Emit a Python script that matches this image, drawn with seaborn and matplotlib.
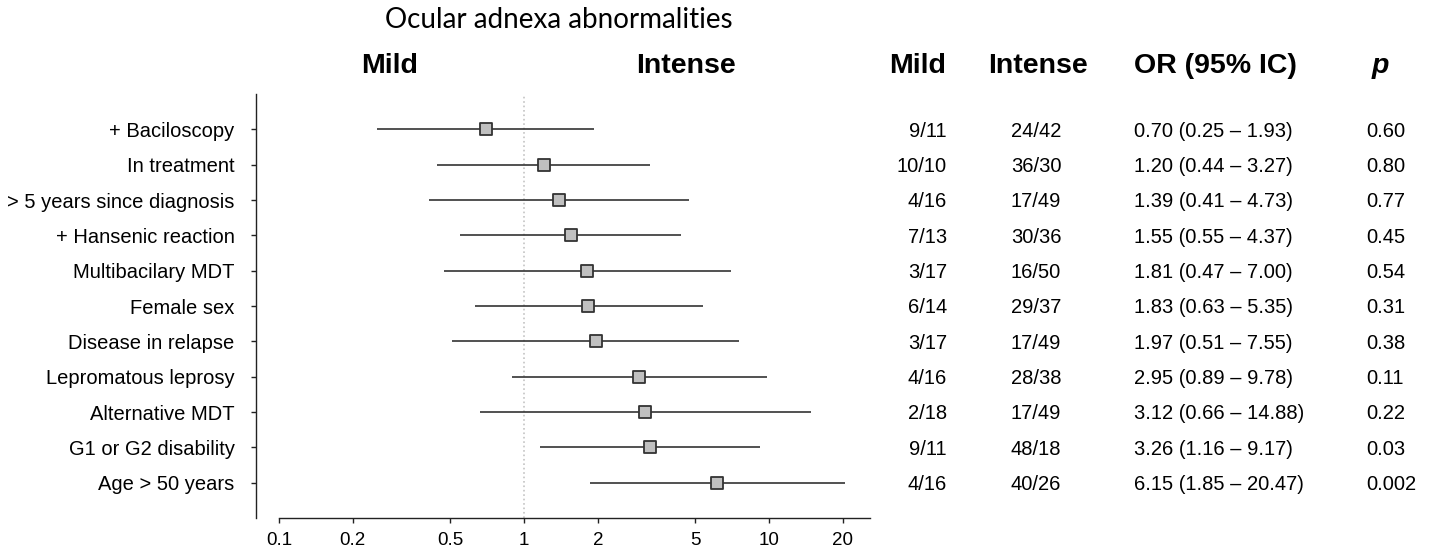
import numpy as np
import pandas as pd
import matplotlib
matplotlib.use('Agg')
import matplotlib.pyplot as plt
import matplotlib.transforms as mtransforms
from matplotlib.ticker import FixedLocator, NullLocator
import seaborn as sns

# ============================
# DADOS
# ============================

fatores = ['+ Baciloscopy', 'In treatment', '> 5 years since diagnosis',
           '+ Hansenic reaction', 'Multibacilary MDT', 'Female sex',
           'Disease in relapse', 'Lepromatous leprosy', 'Alternative MDT',
           'G1 or G2 disability', 'Age > 50 years']

odds_ratio = [0.70, 1.20, 1.39, 1.55, 1.81, 1.83, 1.97, 2.95, 3.12, 3.26, 6.15]
ic_inferior = [0.25, 0.44, 0.41, 0.55, 0.47, 0.63, 0.51, 0.89, 0.66, 1.16, 1.85]
ic_superior = [1.93, 3.27, 4.73, 4.37, 7.00, 5.35, 7.55, 9.78, 14.88, 9.17, 20.47]

leve = ['9/11', '10/10', '4/16', '7/13', '3/17', '6/14', '3/17', '4/16', '2/18', '9/11', '4/16']
intenso = ['24/42', '36/30', '17/49', '30/36', '16/50', '29/37', '17/49', '28/38', '17/49', '48/18', '40/26']
valor_p = ['0.60', '0.80', '0.77', '0.45', '0.54', '0.31', '0.38', '0.11', '0.22', '0.03', '0.002']

ticks_x = [0.1, 0.2, 0.5, 1, 2, 5, 10, 20]
ticks_x_labels = ['0.1', '0.2', '0.5', '1', '2', '5', '10', '20']

df = pd.DataFrame({
    'fator': fatores,
    'pos': np.arange(len(fatores)),
    'OR': odds_ratio,
    'inf': ic_inferior,
    'sup': ic_superior,
})

# ============================
# FIGURA
# ============================

sns.set_style('white')
plt.rcParams['font.family'] = ['Liberation Sans', 'DejaVu Sans']
plt.rcParams['text.color'] = 'black'
plt.rcParams['xtick.color'] = 'black'
plt.rcParams['ytick.color'] = 'black'
plt.rcParams['axes.labelcolor'] = 'black'

W, H = 1429, 552
fig = plt.figure(figsize=(W / 100, H / 100), dpi=100)
ax = fig.add_axes([256 / W, 1 - 518 / H, (870 - 256) / W, (518 - 94) / H])

ax.set_xscale('log')
ax.set_xlim(0.0805, 25.8)
ax.set_ylim(11.0, -1.0)

# linha de referência em 1
ax.axvline(1, color='#c4c4c4', linestyle=':', linewidth=1.2, zorder=1)

# intervalos de confiança
ax.hlines(df['pos'], df['inf'], df['sup'], color='#333333', linewidth=1.2, zorder=2)

# odds ratio
sns.scatterplot(data=df, x='OR', y='pos', marker='s', s=75,
                color='#c0c0c0', edgecolor='#333333', linewidth=1.3,
                zorder=3, ax=ax, legend=False)

ax.set_xlabel('')
ax.set_ylabel('')

ax.xaxis.set_major_locator(FixedLocator(ticks_x))
ax.xaxis.set_minor_locator(NullLocator())
ax.set_xticklabels(ticks_x_labels)
ax.set_yticks(df['pos'])
ax.set_yticklabels(fatores)

ax.tick_params(axis='y', left=True, length=3.8, width=1, pad=11.5,
               labelsize=14.5, color='#222222', labelcolor='black')
ax.tick_params(axis='x', bottom=True, length=3.8, width=1, pad=6,
               labelsize=13.5, color='#222222', labelcolor='black')

for lado in ['top', 'right']:
    ax.spines[lado].set_visible(False)
ax.spines['left'].set_color('#222222')
ax.spines['bottom'].set_color('#222222')
ax.spines['left'].set_linewidth(1)
ax.spines['bottom'].set_linewidth(1)
ax.spines['bottom'].set_bounds(0.1, 25.8)

# ============================
# TABELA À DIREITA
# ============================

trans = mtransforms.blended_transform_factory(fig.transFigure, ax.transData)

for i in range(len(fatores)):
    ax.text(947 / W, i + 0.05, leve[i], transform=trans, ha='right', va='center',
            fontsize=14.5, clip_on=False)
    ax.text(1036 / W, i + 0.05, intenso[i], transform=trans, ha='center', va='center',
            fontsize=14.5, clip_on=False)
    ax.text(1134 / W, i + 0.05, f'{odds_ratio[i]:.2f} ({ic_inferior[i]:.2f} – {ic_superior[i]:.2f})',
            transform=trans, ha='left', va='center', fontsize=14.5, clip_on=False)
    ax.text(1366 / W, i + 0.05, valor_p[i], transform=trans, ha='left', va='center',
            fontsize=14.5, clip_on=False)

# ============================
# CABEÇALHOS
# ============================

y_cab = 1 - 66 / H
fig.text(390 / W, y_cab, 'Mild', ha='center', va='center', fontsize=20.5, fontweight='bold')
fig.text(686 / W, y_cab, 'Intense', ha='center', va='center', fontsize=20.5, fontweight='bold')
fig.text(918 / W, y_cab, 'Mild', ha='center', va='center', fontsize=20.5, fontweight='bold')
fig.text(1038 / W, y_cab, 'Intense', ha='center', va='center', fontsize=20.5, fontweight='bold')
fig.text(1215 / W, y_cab, 'OR (95% IC)', ha='center', va='center', fontsize=20.5, fontweight='bold')
fig.text(1380 / W, y_cab, 'p', ha='center', va='center', fontsize=20.5,
         fontweight='bold', fontstyle='italic')

fig.text(559 / W, 1 - 20 / H, 'Ocular adnexa abnormalities', ha='center', va='center',
         fontsize=20, family=['Lato', 'DejaVu Sans'])

fig.savefig('out.png', dpi=100)
